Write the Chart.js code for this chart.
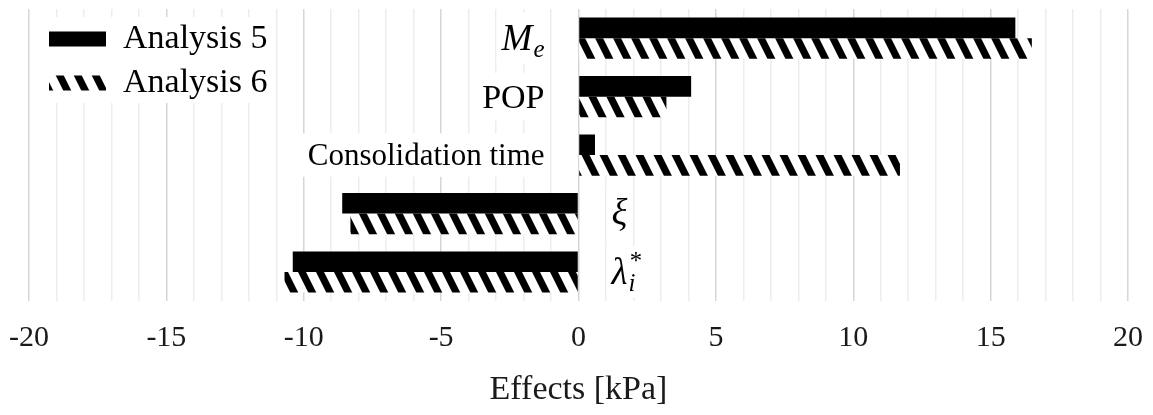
<!DOCTYPE html>
<html>
<head>
<meta charset="utf-8">
<script src="https://cdn.jsdelivr.net/npm/chart.js@4.4.0/dist/chart.umd.min.js"></script>
<style>
  html, body { margin: 0; padding: 0; background: #fff; }
  #wrap { width: 1153px; height: 415px; }
</style>
</head>
<body>
<div id="wrap"><canvas id="effectsChart"></canvas></div>
<script>
// factors (M_e style: base_sub^sup)
const factors = ['M_e', 'POP', 'Consolidation time', 'ξ', 'λ_i^*'];
const analysis5 = [15.9, 4.1, 0.6, -8.6, -10.4];
const analysis6 = [16.5, 3.2, 11.7, -8.3, -10.7];
const xTicks = [-20, -15, -10, -5, 0, 5, 10, 15, 20];

const serif = '"Liberation Serif", "Times New Roman", serif';

// diagonal hatch fill
function makeHatch() {
  const c = document.createElement('canvas');
  c.width = 18; c.height = 36;
  const g = c.getContext('2d');
  g.fillStyle = '#fff';
  g.fillRect(0, 0, 18, 36);
  g.fillStyle = '#000';
  for (const off of [-18, 0, 18]) {
    g.beginPath();
    g.moveTo(off, 0);
    g.lineTo(off + 8, 0);
    g.lineTo(off + 26, 36);
    g.lineTo(off + 18, 36);
    g.closePath();
    g.fill();
  }
  return g.createPattern(c, 'repeat');
}

function drawFactor(ctx, text, x, y, alignRight) {
  const m = text.match(/^([^_^]+)(?:_([^_^]+))?(?:\^([^_^]+))?$/);
  const base = m[1], sub = m[2], sup = m[3];
  const italic = base.length === 1;
  const size = italic ? 37 : (base.length > 3 ? 31 : 34);
  const baseFont = (italic ? 'italic ' : '') + size + 'px ' + serif;
  const smallFont = 'italic ' + Math.round(size * 0.68) + 'px ' + serif;
  ctx.font = baseFont;
  const wb = ctx.measureText(base).width;
  ctx.font = smallFont;
  const ws = Math.max(sub ? ctx.measureText(sub).width : 0, sup ? ctx.measureText(sup).width : 0);
  const w = wb + (ws ? ws + 1 : 0);
  const x0 = alignRight ? x - w : x;

  ctx.fillStyle = '#fff';
  ctx.fillRect(x0 - 5, y - size * 0.7, w + 10, size * 1.4);

  ctx.fillStyle = '#000';
  ctx.textAlign = 'left';
  ctx.textBaseline = 'alphabetic';
  const baseline = y + size * 0.32;
  ctx.font = baseFont;
  ctx.fillText(base, x0, baseline);
  ctx.font = smallFont;
  if (sub) ctx.fillText(sub, x0 + wb + 1, baseline + size * 0.2);
  if (sup) ctx.fillText(sup, x0 + wb + 1, baseline - size * 0.4);
}

// category names next to the zero line + legend box
const overlay = {
  id: 'overlay',
  afterDraw(chart) {
    const ctx = chart.ctx;
    const xs = chart.scales.x, ys = chart.scales.y;
    const zero = xs.getPixelForValue(0);
    ctx.save();
    factors.forEach((f, i) => {
      const y = ys.getPixelForValue(i);
      if (analysis5[i] >= 0) drawFactor(ctx, f, zero - 34, y, true);
      else drawFactor(ctx, f, zero + 33, y, false);
    });

    // legend
    ctx.fillStyle = '#fff';
    ctx.fillRect(34, 17, 238, 86);
    chart.data.datasets.forEach((ds, i) => {
      const cy = 39 + i * 44;
      ctx.fillStyle = ds.backgroundColor;
      ctx.fillRect(49, cy - 7.5, 57, 15);
      ctx.fillStyle = '#000';
      ctx.font = '34px ' + serif;
      ctx.textAlign = 'left';
      ctx.textBaseline = 'middle';
      ctx.fillText(ds.label, 123, cy);
    });
    ctx.restore();
  }
};

new Chart(document.getElementById('effectsChart'), {
  type: 'bar',
  data: {
    labels: factors,
    datasets: [
      {
        label: 'Analysis 5',
        data: analysis5,
        backgroundColor: '#000',
        borderWidth: 0
      },
      {
        label: 'Analysis 6',
        data: analysis6,
        backgroundColor: makeHatch(),
        borderWidth: 0
      }
    ]
  },
  options: {
    indexAxis: 'y',
    responsive: true,
    maintainAspectRatio: false,
    animation: false,
    categoryPercentage: 0.705,
    barPercentage: 1,
    layout: { padding: { left: 29, right: 25, top: 9, bottom: 5 } },
    plugins: {
      legend: { display: false },
      tooltip: { enabled: false }
    },
    scales: {
      x: {
        min: -20,
        max: 20,
        border: { display: false },
        grid: {
          drawTicks: true,
          tickLength: 19,
          tickColor: 'rgba(0,0,0,0)',
          color: c => (xTicks.includes(c.tick.value) ? '#d6d6d6' : '#ededed'),
          lineWidth: 1.5
        },
        ticks: {
          stepSize: 1,
          autoSkip: false,
          maxRotation: 0,
          padding: 0,
          color: '#1a1a1a',
          font: { family: serif, size: 30 },
          callback: v => (xTicks.includes(v) ? String(v) : '')
        },
        title: {
          display: true,
          text: 'Effects [kPa]',
          color: '#1a1a1a',
          font: { family: serif, size: 34 },
          padding: { top: 13, bottom: 0 }
        }
      },
      y: {
        display: false
      }
    }
  },
  plugins: [overlay]
});
</script>
</body>
</html>
